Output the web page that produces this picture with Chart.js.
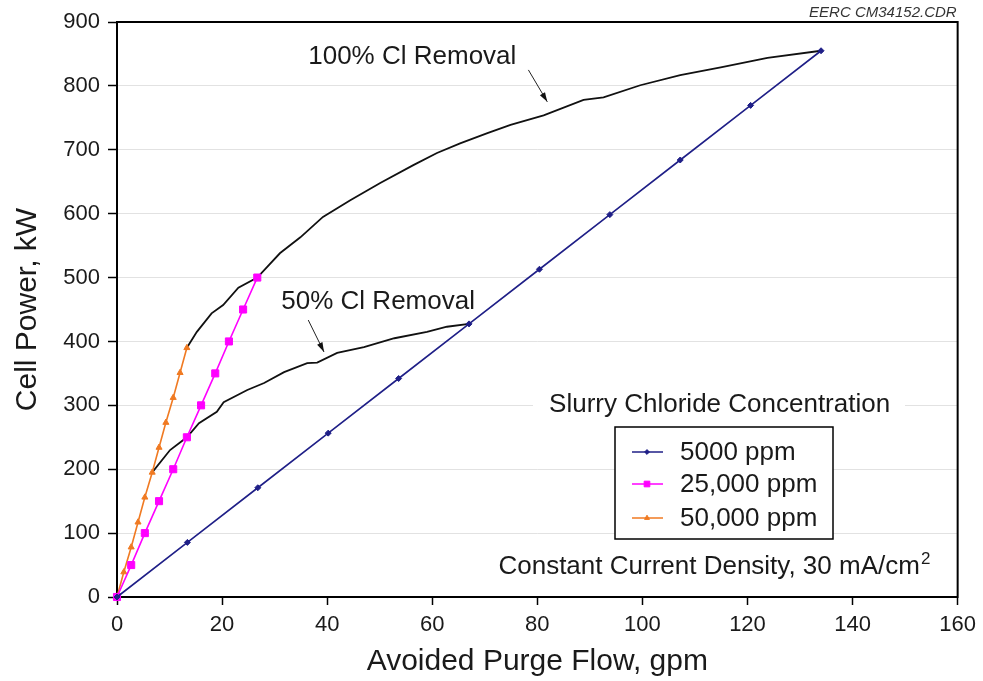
<!DOCTYPE html>
<html>
<head>
<meta charset="utf-8">
<script src="https://cdn.jsdelivr.net/npm/chart.js@4"></script>
<style>
  html, body { margin: 0; padding: 0; background: #fff; }
  #wrap { width: 983px; height: 681px; }
</style>
</head>
<body>
<div id="wrap"><canvas id="chart" width="983" height="681"></canvas></div>
<script>
// Avoided purge flow (gpm) vs. cell power (kW)
const flow5000 = [0, 13.4, 26.8, 40.2, 53.6, 67, 80.4, 93.8, 107.2, 120.6, 134];
const power5000 = [0, 85.5, 171, 256.5, 342, 427.5, 513, 598.5, 684, 769.5, 855];

const flow25000 = [0, 2.7, 5.3, 8, 10.7, 13.3, 16, 18.7, 21.3, 24, 26.7];
const power25000 = [0, 50, 100, 150, 200, 250, 300, 350, 400, 450, 500];

const flow50000 = [0, 1.3, 2.7, 4, 5.3, 6.7, 8, 9.3, 10.7, 12, 13.3];
const power50000 = [0, 39, 78, 117, 156, 195, 234, 273, 312, 351, 390];

// Cl removal curves
const flow100 = [13.3, 15.2, 18, 20.2, 23.1, 26.7, 31, 34.9, 39.2, 44.4, 50.1, 56.4, 60.9, 65.3, 70.5, 74.9, 81.2, 88.8, 92.6, 99.6, 107.2, 114.9, 123.8, 134];
const power100 = [390, 415, 444, 457, 484, 500, 538, 563, 595, 621, 648, 676, 695, 710, 726, 739, 754, 778, 782, 801, 817, 829, 844, 855];

const flow50 = [6.7, 10.1, 13.3, 15.6, 19, 20.3, 24.8, 28, 31.8, 36.2, 38.1, 41.9, 47, 52.8, 59, 62.8, 67];
const power50 = [195, 230, 250, 272, 290, 305, 324, 335, 352, 366, 367, 382, 391, 405, 415, 423, 427.5];

const seriesLabels = ['5000 ppm', '25,000 ppm', '50,000 ppm'];
const xTicks = [0, 20, 40, 60, 80, 100, 120, 140, 160];
const yTicks = [0, 100, 200, 300, 400, 500, 600, 700, 800, 900];

const FONT = "'Liberation Sans', Arial, sans-serif";

const toXY = (xs, ys) => xs.map((x, i) => ({ x: x, y: ys[i] }));

const annotations = {
    id: 'annotations',
    beforeDatasetsDraw(chart) {
        const { ctx, chartArea: a } = chart;
        ctx.save();
        // white backing behind the legend title and legend box
        ctx.fillStyle = '#fff';
        ctx.fillRect(a.left + 416, a.top + 368, 372, 30);
        ctx.fillRect(a.left + 498, a.top + 405, 218, 112);
        // frame
        ctx.strokeStyle = '#000';
        ctx.lineWidth = 2;
        ctx.strokeRect(a.left, a.top, a.right - a.left, a.bottom - a.top);
        ctx.restore();
    },
    afterDraw(chart) {
        const { ctx, chartArea: a, scales: { x, y } } = chart;
        ctx.save();
        ctx.fillStyle = '#1a1a1a';
        ctx.textBaseline = 'middle';

        ctx.font = '26px ' + FONT;
        ctx.textAlign = 'center';
        ctx.fillText('100% Cl Removal', x.getPixelForValue(56.2), y.getPixelForValue(845));
        ctx.fillText('50% Cl Removal', x.getPixelForValue(49.7), y.getPixelForValue(462));
        ctx.fillText('Slurry Chloride Concentration', x.getPixelForValue(114.7), y.getPixelForValue(300.5));

        ctx.textAlign = 'left';
        const cx = x.getPixelForValue(72.6), cy = y.getPixelForValue(47);
        const main = 'Constant Current Density, 30 mA/cm';
        ctx.fillText(main, cx, cy);
        const supX = cx + ctx.measureText(main).width + 1;
        ctx.font = '17px ' + FONT;
        ctx.fillText('2', supX, cy - 8);

        // arrows
        const arrow = (x0, y0, x1, y1) => {
            const px0 = x.getPixelForValue(x0), py0 = y.getPixelForValue(y0);
            const px1 = x.getPixelForValue(x1), py1 = y.getPixelForValue(y1);
            const ang = Math.atan2(py1 - py0, px1 - px0);
            ctx.strokeStyle = '#222';
            ctx.lineWidth = 1;
            ctx.beginPath();
            ctx.moveTo(px0, py0);
            ctx.lineTo(px1, py1);
            ctx.stroke();
            ctx.fillStyle = '#111';
            ctx.beginPath();
            ctx.moveTo(px1, py1);
            ctx.lineTo(px1 - 10 * Math.cos(ang - 0.3), py1 - 10 * Math.sin(ang - 0.3));
            ctx.lineTo(px1 - 10 * Math.cos(ang + 0.3), py1 - 10 * Math.sin(ang + 0.3));
            ctx.closePath();
            ctx.fill();
        };
        arrow(78.3, 825, 81.9, 775);
        arrow(36.4, 433.5, 39.4, 383.5);

        // legend box
        const bx = a.left + 498, by = a.top + 405;
        ctx.strokeStyle = '#000';
        ctx.lineWidth = 1.5;
        ctx.strokeRect(bx, by, 218, 112);
        const rowsY = [by + 25, by + 57, by + 91];
        chart.data.datasets.slice(0, 3).forEach((ds, i) => {
            const ly = rowsY[i];
            ctx.strokeStyle = ds.borderColor;
            ctx.lineWidth = 1.5;
            ctx.beginPath();
            ctx.moveTo(bx + 17, ly);
            ctx.lineTo(bx + 48, ly);
            ctx.stroke();
            ctx.fillStyle = ds.backgroundColor;
            ctx.lineWidth = 1;
            Chart.helpers.drawPoint(ctx, {
                pointStyle: ds.pointStyle,
                radius: ds.pointRadius * 0.8,
                borderWidth: 1
            }, bx + 32, ly);
            ctx.fillStyle = '#1a1a1a';
            ctx.font = '26px ' + FONT;
            ctx.fillText(seriesLabels[i], bx + 65, ly + 1);
        });
        ctx.restore();

        // file tag
        ctx.save();
        ctx.font = 'italic 15px ' + FONT;
        ctx.fillStyle = '#333';
        ctx.textAlign = 'right';
        ctx.fillText('EERC CM34152.CDR', a.right - 1, 17);
        ctx.restore();
    }
};

new Chart(document.getElementById('chart'), {
    type: 'line',
    data: {
        datasets: [
            {
                label: seriesLabels[0],
                data: toXY(flow5000, power5000),
                borderColor: '#1f1f87',
                backgroundColor: '#1f1f87',
                borderWidth: 1.6,
                pointStyle: 'rectRot',
                pointRadius: 3,
                pointBorderWidth: 1,
                clip: false
            },
            {
                label: seriesLabels[1],
                data: toXY(flow25000, power25000),
                borderColor: '#ff00ff',
                backgroundColor: '#ff00ff',
                borderWidth: 1.6,
                pointStyle: 'rect',
                pointRadius: 5,
                pointBorderWidth: 1,
                clip: false
            },
            {
                label: seriesLabels[2],
                data: toXY(flow50000, power50000),
                borderColor: '#f07a22',
                backgroundColor: '#f07a22',
                borderWidth: 1.6,
                pointStyle: 'triangle',
                pointRadius: 3.5,
                pointBorderWidth: 1,
                clip: false
            },
            {
                label: '100% Cl Removal',
                data: toXY(flow100, power100),
                borderColor: '#111',
                borderWidth: 1.8,
                pointRadius: 0,
                tension: 0
            },
            {
                label: '50% Cl Removal',
                data: toXY(flow50, power50),
                borderColor: '#111',
                borderWidth: 1.8,
                pointRadius: 0,
                tension: 0
            }
        ]
    },
    options: {
        responsive: false,
        animation: false,
        layout: {
            padding: { top: 22, right: 25, left: 0, bottom: 0 }
        },
        plugins: {
            legend: { display: false },
            tooltip: { enabled: false }
        },
        scales: {
            x: {
                type: 'linear',
                min: 0,
                max: 160,
                afterBuildTicks: (s) => { s.ticks = xTicks.map(v => ({ value: v })); },
                afterFit: (s) => { s.height = 84; },
                ticks: {
                    color: '#1a1a1a',
                    font: { family: FONT, size: 22 },
                    padding: 7,
                    maxRotation: 0
                },
                grid: {
                    drawOnChartArea: false,
                    tickColor: '#000',
                    tickLength: 8,
                    tickWidth: 1.5
                },
                border: { color: '#000', width: 2 },
                title: {
                    display: true,
                    text: 'Avoided Purge Flow, gpm',
                    color: '#1a1a1a',
                    font: { family: FONT, size: 30, lineHeight: 1.2 },
                    padding: { top: 0, bottom: 1 }
                }
            },
            y: {
                type: 'linear',
                min: 0,
                max: 900,
                afterBuildTicks: (s) => { s.ticks = yTicks.map(v => ({ value: v })); },
                afterFit: (s) => { s.width = 117; },
                ticks: {
                    color: '#1a1a1a',
                    font: { family: FONT, size: 22 },
                    padding: 8
                },
                grid: {
                    color: '#e2e2e2',
                    lineWidth: 1,
                    tickColor: '#000',
                    tickLength: 9,
                    tickWidth: 1.5
                },
                border: { color: '#000', width: 2 },
                title: {
                    display: true,
                    text: 'Cell Power, kW',
                    color: '#1a1a1a',
                    font: { family: FONT, size: 30, lineHeight: 1.2 },
                    padding: { top: 10, bottom: 0 }
                }
            }
        }
    },
    plugins: [annotations]
});
</script>
</body>
</html>
